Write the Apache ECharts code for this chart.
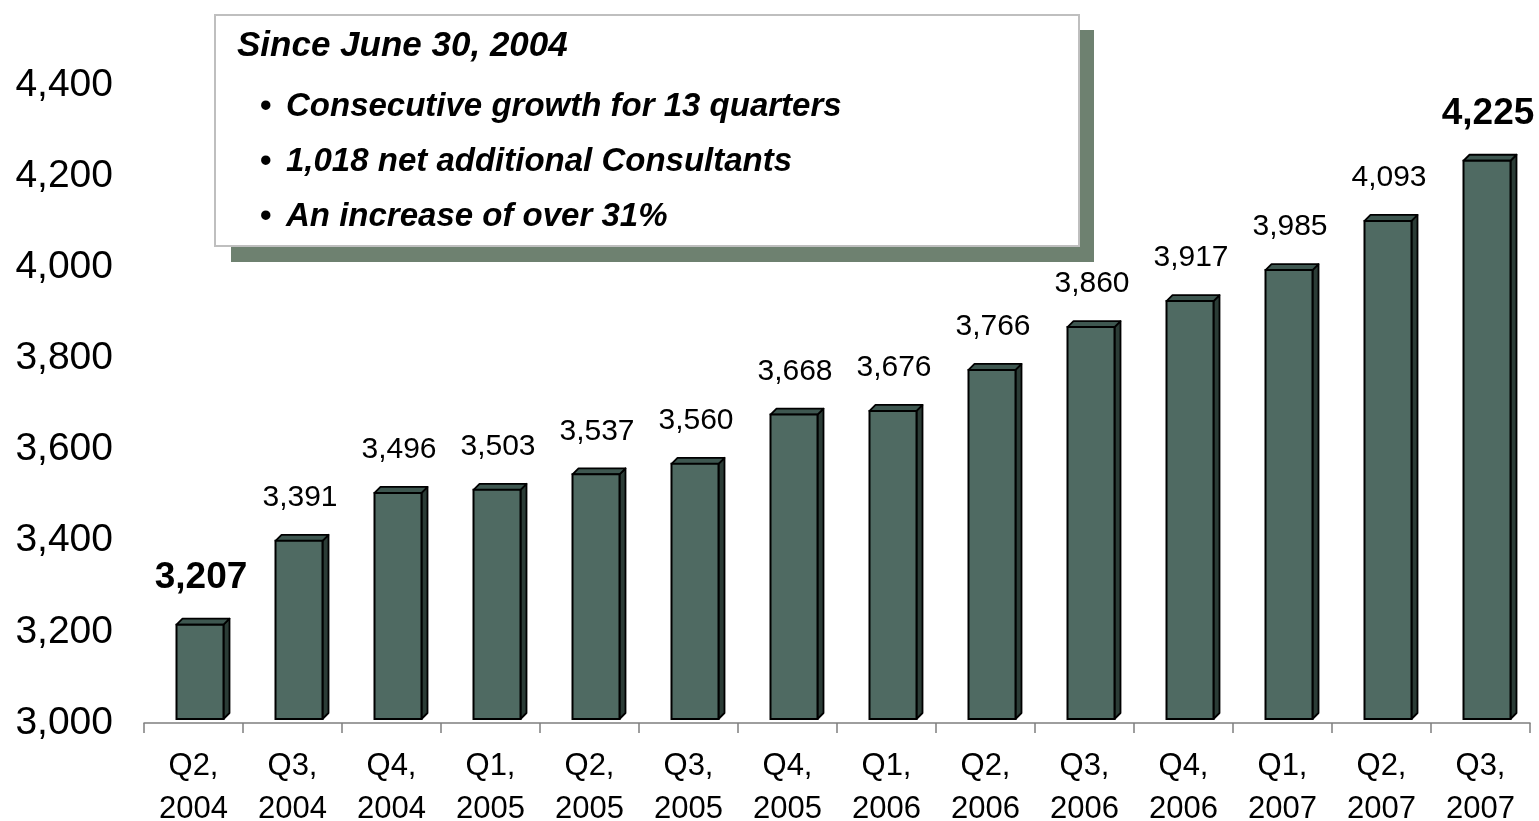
<!DOCTYPE html>
<html>
<head>
<meta charset="utf-8">
<script src="https://cdn.jsdelivr.net/npm/echarts@6/dist/echarts.min.js"></script>
<style>
  html, body { margin: 0; padding: 0; background: #ffffff; }
  #chart { width: 1539px; height: 821px; }
</style>
</head>
<body>
<div id="chart"></div>
<script>
// Quarter labels (two lines each) and consultant head-count per quarter
const quarters = ['Q2,\n2004', 'Q3,\n2004', 'Q4,\n2004', 'Q1,\n2005', 'Q2,\n2005', 'Q3,\n2005', 'Q4,\n2005',
                  'Q1,\n2006', 'Q2,\n2006', 'Q3,\n2006', 'Q4,\n2006', 'Q1,\n2007', 'Q2,\n2007', 'Q3,\n2007'];
const consultants = [3207, 3391, 3496, 3503, 3537, 3560, 3668, 3676, 3766, 3860, 3917, 3985, 4093, 4225];
// Quarters whose value is emphasised in bold (first and latest)
const emphasised = [0, 13];
// Value axis range
const yMin = 3000, yMax = 4400, yStep = 200;
// Call-out text
const noteTitle = 'Since June 30, 2004';
const noteBullets = ['Consecutive growth for 13 quarters', '1,018 net additional Consultants', 'An increase of over 31%'];

const FONT = '"Liberation Sans", Arial, Helvetica, sans-serif';

function withCommas(v) {
  return String(Math.round(v)).replace(/\B(?=(\d{3})+(?!\d))/g, ',');
}

const FRONT = '#4F6A62', SIDE = '#2B3C36', TOP = '#3E5750', EDGE = '#000000';

// Pseudo-3D column: front face, top face and right side face, plus its value label
function renderColumn(params, api) {
  const idx = api.value(0);
  const val = api.value(1);
  const top = api.coord([idx, val]);
  const base = api.coord([idx, yMin]);
  const lift = 4, bw = 47, dx = 6, dy = 6;
  const x0 = top[0] - 17, x1 = x0 + bw;
  const yt = top[1] - lift, yb = base[1] - lift;
  const bold = emphasised.indexOf(idx) >= 0;
  return {
    type: 'group',
    children: [
      {
        type: 'polygon',
        shape: { points: [[x1, yt], [x1 + dx, yt - dy], [x1 + dx, yb - dy], [x1, yb]] },
        style: { fill: SIDE, stroke: EDGE, lineWidth: 1.8, lineJoin: 'round' }
      },
      {
        type: 'polygon',
        shape: { points: [[x0, yt], [x0 + dx, yt - dy], [x1 + dx, yt - dy], [x1, yt]] },
        style: { fill: TOP, stroke: EDGE, lineWidth: 1.8, lineJoin: 'round' }
      },
      {
        type: 'rect',
        shape: { x: x0, y: yt, width: bw, height: yb - yt },
        style: { fill: FRONT, stroke: EDGE, lineWidth: 2 }
      },
      {
        type: 'text',
        x: x0 + bw / 2 + 1,
        y: yt - dy - (bold ? 41 : 37),
        style: {
          text: withCommas(val),
          fill: '#000',
          font: (bold ? 'bold 37px ' : '30px ') + FONT,
          align: 'center',
          verticalAlign: 'middle'
        }
      }
    ]
  };
}

const chart = echarts.init(document.getElementById('chart'), null, { renderer: 'canvas' });

const noteGraphics = [
  { type: 'rect', left: 231, top: 30, shape: { width: 863, height: 232 }, style: { fill: '#6E8170' }, z: 10 },
  { type: 'rect', left: 214, top: 14, shape: { width: 864, height: 231 }, style: { fill: '#ffffff', stroke: '#BFBFBF', lineWidth: 2 }, z: 11 },
  { type: 'text', left: 237, top: 29, style: { text: noteTitle, font: 'italic bold 35px ' + FONT, fill: '#000' }, z: 12 }
];
noteBullets.forEach(function (line, i) {
  const y = 90 + i * 55;
  noteGraphics.push({ type: 'text', left: 260, top: y, style: { text: '\u2022', font: 'bold 33px ' + FONT, fill: '#000' }, z: 12 });
  noteGraphics.push({ type: 'text', left: 286, top: y, style: { text: line, font: 'italic bold 33px ' + FONT, fill: '#000' }, z: 12 });
});

chart.setOption({
  animation: false,
  backgroundColor: '#ffffff',
  grid: { left: 144, right: 9, top: 85, bottom: 98, containLabel: false, outerBoundsMode: 'none' },
  xAxis: {
    type: 'category',
    data: quarters,
    axisLine: { show: true, lineStyle: { color: '#7F7F7F', width: 1.5 } },
    axisTick: { show: true, length: 10, lineStyle: { color: '#7F7F7F', width: 1.5 } },
    axisLabel: { color: '#000', fontFamily: FONT, fontSize: 31, lineHeight: 43, margin: 22, interval: 0 },
    splitLine: { show: false }
  },
  yAxis: {
    type: 'value',
    min: yMin,
    max: yMax,
    interval: yStep,
    axisLine: { show: false },
    axisTick: { show: false },
    splitLine: { show: false },
    axisLabel: { color: '#000', fontFamily: FONT, fontSize: 39, margin: 31, formatter: withCommas }
  },
  series: [{
    type: 'custom',
    renderItem: renderColumn,
    data: consultants.map(function (v, i) { return [i, v]; }),
    encode: { x: 0, y: 1 },
    clip: false,
    z: 2
  }],
  graphic: noteGraphics
});
</script>
</body>
</html>
